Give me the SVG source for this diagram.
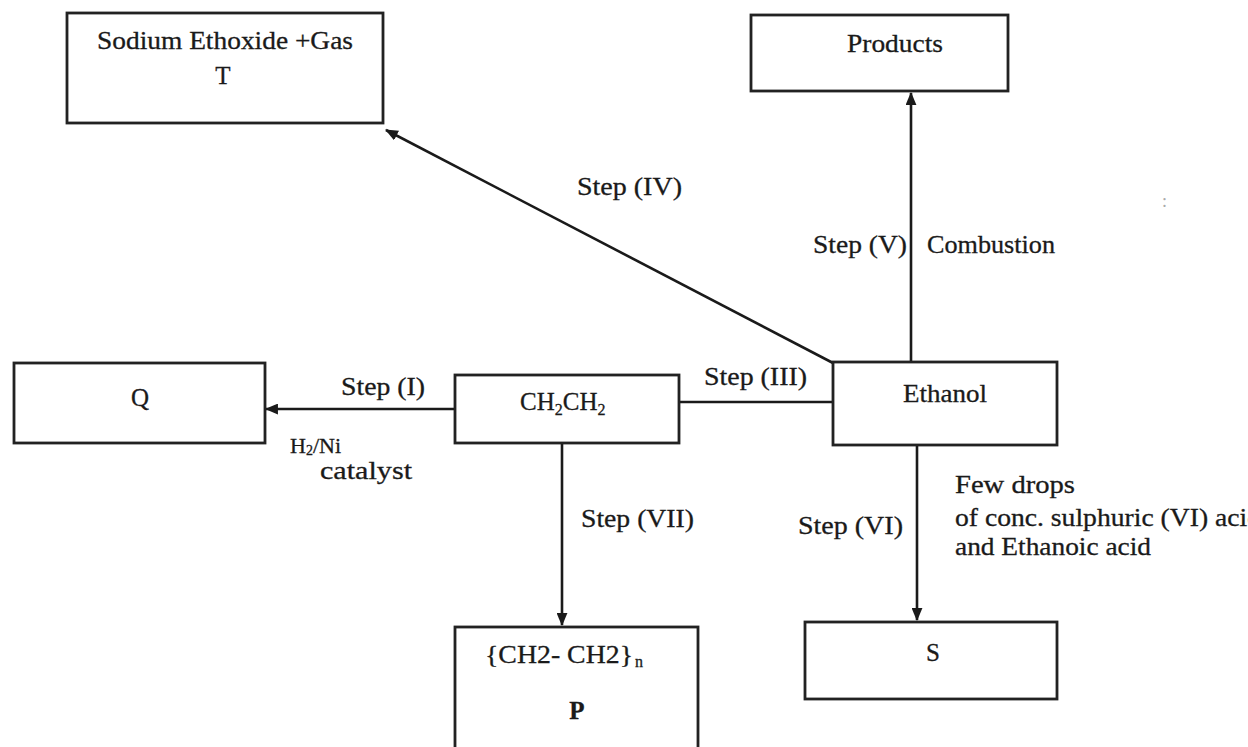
<svg xmlns="http://www.w3.org/2000/svg" width="1248" height="747" viewBox="0 0 1248 747">
<style>
.box{fill:#fff;stroke:#222;stroke-width:2.8}
.ln{stroke:#1a1a1a;stroke-width:2.6;fill:none}
text{font-family:"Liberation Serif","Times New Roman",serif;font-size:25px;fill:#1a1a1a;stroke:#1a1a1a;stroke-width:0.3}
.c{text-anchor:middle}
.sub{font-size:16px}
</style>
<defs>
<marker id="ah" viewBox="0 0 12 10" refX="11" refY="5" markerWidth="13" markerHeight="11" markerUnits="userSpaceOnUse" orient="auto">
<path d="M0,0 L12,5 L0,10 z" fill="#1a1a1a"/>
</marker>
</defs>
<rect width="1248" height="747" fill="#fff"/>
<g id="connectors">
<line class="ln" x1="833" y1="363" x2="386" y2="130" marker-end="url(#ah)"/>
<line class="ln" x1="911" y1="362" x2="911" y2="93" marker-end="url(#ah)"/>
<line class="ln" x1="455" y1="409" x2="266" y2="409" marker-end="url(#ah)"/>
<line class="ln" x1="679" y1="402" x2="833" y2="402"/>
<line class="ln" x1="562" y1="443" x2="562" y2="625" marker-end="url(#ah)"/>
<line class="ln" x1="917" y1="445" x2="917" y2="620" marker-end="url(#ah)"/>
<text x="577" y="195" textLength="105" lengthAdjust="spacingAndGlyphs">Step (IV)</text>
<text x="813" y="253" textLength="94" lengthAdjust="spacingAndGlyphs">Step (V)</text>
<text x="927" y="253" textLength="128" lengthAdjust="spacingAndGlyphs">Combustion</text>
<text x="341" y="395" textLength="84" lengthAdjust="spacingAndGlyphs">Step (I)</text>
<text x="704" y="385" textLength="103" lengthAdjust="spacingAndGlyphs">Step (III)</text>
<text x="290" y="453" style="font-size:22px">H<tspan style="font-size:14px" dy="2">2</tspan><tspan dy="-2">/Ni</tspan></text>
<text x="320" y="479" textLength="92" lengthAdjust="spacingAndGlyphs">catalyst</text>
<text x="581" y="527" textLength="113" lengthAdjust="spacingAndGlyphs">Step (VII)</text>
<text x="798" y="534" textLength="105" lengthAdjust="spacingAndGlyphs">Step (VI)</text>
<text x="955" y="493" textLength="120" lengthAdjust="spacingAndGlyphs">Few drops</text>
<text x="955" y="526" textLength="306" lengthAdjust="spacingAndGlyphs">of conc. sulphuric (VI) acid</text>
<text x="955" y="555" textLength="196" lengthAdjust="spacingAndGlyphs">and Ethanoic acid</text>
</g>
<g id="node-T">
<rect class="box" x="67" y="13" width="316" height="110"/>
<text x="97" y="49" textLength="256" lengthAdjust="spacingAndGlyphs">Sodium Ethoxide +Gas</text>
<text class="c" x="223" y="84">T</text>
</g>
<g id="node-products">
<rect class="box" x="751" y="15" width="257" height="76"/>
<text x="847" y="52" textLength="96" lengthAdjust="spacingAndGlyphs">Products</text>
</g>
<g id="node-Q">
<rect class="box" x="14" y="363" width="251" height="80"/>
<text class="c" x="140" y="406">Q</text>
</g>
<g id="node-ethene">
<rect class="box" x="455" y="375" width="224" height="68"/>
<text x="520" y="410">CH<tspan class="sub" dy="5">2</tspan><tspan dy="-5">CH</tspan><tspan class="sub" dy="5">2</tspan></text>
</g>
<g id="node-ethanol">
<rect class="box" x="833" y="362" width="224" height="83"/>
<text x="903" y="402" textLength="84" lengthAdjust="spacingAndGlyphs">Ethanol</text>
</g>
<g id="node-P">
<rect class="box" x="455" y="627" width="243" height="140"/>
<text x="485" y="663" textLength="148" lengthAdjust="spacingAndGlyphs">{CH2- CH2}</text>
<text class="sub" x="635" y="667">n</text>
<text class="c" x="577" y="719" font-weight="bold">P</text>
</g>
<g id="node-S">
<rect class="box" x="805" y="622" width="252" height="77"/>
<text class="c" x="933" y="661">S</text>
</g>
<text x="1162" y="207" style="fill:#aaa;stroke:none;font-size:18px">:</text>
</svg>
